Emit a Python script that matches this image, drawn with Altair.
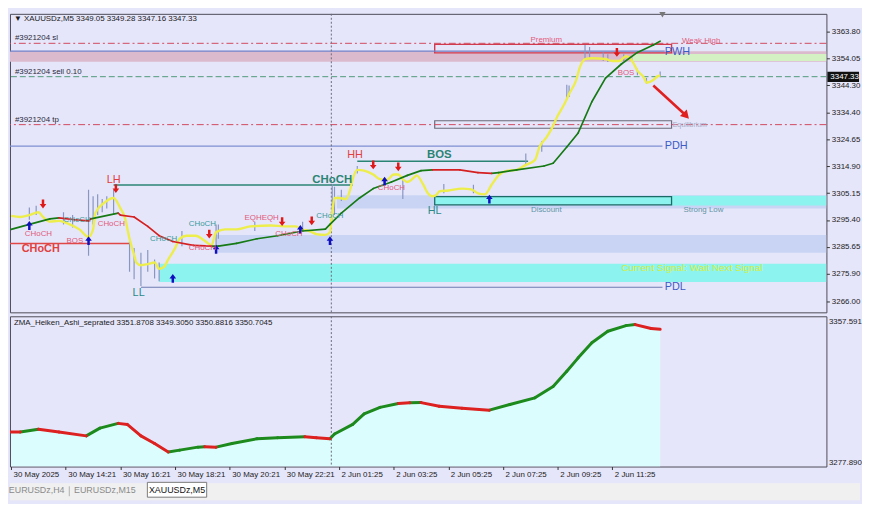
import json
import altair as alt
import pandas as pd

# ---------------- data ----------------
time_ticks = [0, 24, 48, 72, 96, 120, 144, 168, 192, 216, 240, 264]
time_labels = ["30 May 2025", "30 May 14:21", "30 May 16:21", "30 May 18:21",
               "30 May 20:21", "30 May 22:21", "2 Jun 01:25", "2 Jun 03:25",
               "2 Jun 05:25", "2 Jun 07:25", "2 Jun 09:25", "2 Jun 11:25"]
price_ticks = [3363.80, 3354.05, 3344.30, 3334.40, 3324.65, 3314.90,
               3305.15, 3295.40, 3285.65, 3275.90, 3266.00]
ind_ticks = [3357.591, 3277.890]
tabs = ["EURUSDz,H4", "EURUSDz,M15", "XAUUSDz,M5"]
header_top = "\u25bc XAUUSDz,M5  3349.05 3349.28 3347.16 3347.33"
header_bot = "ZMA_Heiken_Ashi_seprated 3351.8708 3349.3050 3350.8816 3350.7045"
last_price = 3347.33
signal_text = "Current Signal: Wait Next Signal"

# smoothed Heiken Ashi (yellow) line: bar index, price
ha_bar = [0, 4, 8, 12, 14, 17, 21, 25, 30, 34, 36, 37, 41, 45, 48, 50, 52, 54, 55, 57,
          60, 63, 65, 67, 69, 72, 74, 77, 81, 85, 88, 90, 94, 99, 105, 114, 120, 125, 128, 131,
          134, 138, 140, 141, 142, 144, 147, 149, 150, 152, 155, 159, 162, 165, 168, 170, 172, 174, 177, 178,
          181, 183, 185, 187, 188, 192, 198, 202, 205, 208, 211, 214, 218, 222, 226, 230, 232, 235, 237, 240,
          243, 245, 248, 250, 252, 255, 261, 264, 267, 270, 273, 275, 278, 279, 282, 284, 285]
ha_price = [3296.9, 3296.5, 3297.2, 3298.2, 3296.5, 3294.8, 3295.1, 3294.1, 3292.0, 3289.3,
            3292.0, 3297.9, 3301.7, 3303.4, 3299.6, 3296.2, 3288.6, 3282.8, 3280.0, 3279.0,
            3279.4, 3280.0, 3277.7, 3278.3, 3281.1, 3285.2, 3288.6, 3289.7, 3289.7, 3287.9,
            3286.2, 3291.0, 3292.0, 3292.0, 3293.1, 3293.4, 3293.1, 3293.1, 3292.0, 3291.4,
            3290.3, 3290.0, 3291.0, 3297.9, 3303.4, 3303.4, 3303.0, 3306.8, 3310.2, 3313.6,
            3313.3, 3311.9, 3310.2, 3309.9, 3311.9, 3311.9, 3310.2, 3309.2, 3310.9, 3311.6,
            3308.2, 3305.1, 3304.0, 3304.7, 3305.8, 3306.1, 3306.8, 3306.5, 3305.1, 3304.7,
            3308.2, 3311.6, 3313.3, 3313.6, 3315.4, 3317.1, 3321.9, 3325.3, 3328.0, 3333.2,
            3337.6, 3341.1, 3345.9, 3351.4, 3353.8, 3354.1, 3353.8, 3353.1, 3353.1, 3354.8,
            3352.7, 3349.6, 3346.9, 3345.2, 3346.2, 3347.6, 3347.9]

# candle wicks
wick_bar = [8, 11, 23, 27, 34, 36, 38, 40, 42, 45, 52, 54, 57, 60, 63, 65, 75, 90, 91, 107,
            128, 141, 142, 145, 152, 172, 190, 203, 226, 233, 244, 245, 252, 254, 260, 262, 269, 275, 279, 285]
wick_hi = [3299.9, 3300.6, 3298.2, 3297.2, 3306.4, 3304.0, 3304.7, 3303.0, 3304.0, 3306.4,
           3287.9, 3285.2, 3283.5, 3284.5, 3281.1, 3280.0, 3291.4, 3293.8, 3293.8, 3294.8,
           3294.8, 3308.5, 3307.5, 3306.4, 3315.0, 3310.9, 3308.5, 3308.2, 3319.5, 3324.0,
           3344.5, 3344.2, 3358.9, 3358.2, 3356.2, 3355.5, 3355.5, 3350.3, 3346.9, 3349.3]
wick_lo = [3295.5, 3297.2, 3293.8, 3292.7, 3282.4, 3293.8, 3297.2, 3298.2, 3299.6, 3297.2,
           3276.6, 3273.9, 3271.5, 3276.6, 3274.2, 3273.2, 3285.9, 3285.9, 3288.6, 3291.4,
           3291.4, 3295.5, 3297.2, 3302.3, 3312.3, 3303.0, 3305.1, 3305.1, 3315.4, 3320.2,
           3339.3, 3340.0, 3353.8, 3353.8, 3353.1, 3352.7, 3353.1, 3347.9, 3344.8, 3347.2]

# moving average (green rising / red falling)
ma_bar = [0, 8, 17, 21, 28, 34, 35, 47, 48, 54, 60, 65, 71, 80, 88, 91, 99, 108, 117, 128,
          138, 140, 145, 153, 159, 167, 174, 180, 185, 197, 205, 211, 214, 222, 234, 238, 244, 249, 255, 261,
          268, 275, 282, 285]
ma_price = [3292.0, 3293.8, 3295.8, 3296.2, 3295.5, 3295.1, 3295.8, 3297.9, 3297.2, 3296.5,
            3293.1, 3289.7, 3287.6, 3286.2, 3285.9, 3285.9, 3286.9, 3288.6, 3289.7, 3291.4,
            3292.1, 3293.8, 3297.9, 3303.4, 3306.8, 3309.2, 3311.6, 3313.3, 3313.6, 3313.6,
            3312.6, 3312.3, 3312.6, 3313.6, 3315.0, 3316.0, 3321.9, 3327.0, 3338.3, 3346.9,
            3352.0, 3356.2, 3358.9, 3360.3]
ma_dir = ["u", "u", "u", "u", "d", "d", "d", "u", "d", "d", "d", "d", "d", "d", "d", "u", "u", "u", "u", "u",
          "u", "u", "u", "u", "u", "u", "u", "u", "u", "d", "d", "d", "u", "u", "u", "u", "u", "u", "u", "u",
          "u", "u", "u", "u"]

# lower window indicator
ind_bar = [0, 4, 12, 21, 33, 39, 47, 51, 57, 63, 69, 74, 82, 85, 90, 97, 108, 117, 129, 134,
           140, 142, 150, 155, 162, 170, 175, 180, 188, 198, 210, 219, 230, 238, 244, 249, 255, 262, 270, 274,
           281, 285]
ind_val = [3295.0, 3295.0, 3296.6, 3295.0, 3292.8, 3297.2, 3299.9, 3299.3, 3292.8, 3288.5,
           3283.7, 3284.7, 3286.4, 3286.6, 3286.4, 3288.5, 3291.2, 3291.8, 3292.3, 3291.8,
           3291.2, 3293.9, 3299.3, 3305.3, 3309.0, 3311.2, 3311.6, 3311.7, 3309.6, 3308.5,
           3307.4, 3310.6, 3314.4, 3320.9, 3329.5, 3337.1, 3345.7, 3352.2, 3355.4, 3356.0,
           3353.8, 3353.3]
ind_dir = ["d", "d", "u", "d", "d", "u", "u", "d", "d", "d", "d", "u", "u", "u", "d", "u", "u", "u", "u", "d",
           "d", "u", "u", "u", "u", "u", "d", "u", "d", "d", "d", "u", "u", "u", "u", "u", "u", "u", "u", "u",
           "d", "d"]

# signal arrows
down_bar = [14, 46, 87, 119, 132, 159, 170, 266]
down_price = [3301.2, 3306.8, 3290.3, 3294.8, 3295.1, 3315.4, 3314.7, 3356.2]
up_bar = [8, 34, 71, 90, 140, 127, 164, 210]
up_price = [3293.4, 3287.9, 3274.2, 3284.8, 3287.9, 3292.0, 3309.5, 3303.0]
big_arrow_bar = [282, 296]
big_arrow_price = [3344.2, 3333.6]

# trade order lines
order_names = ["#3921204 sl", "#3921204 sell 0.10", "#3921204 tp"]
order_price = [3359.5, 3347.4, 3330.0]

# zones (bar from, bar to, low, high, kind)
zone_b0 = [-0.5, 273, 143, 90, 65, 290]
zone_b1 = [358, 358, 358, 358, 358, 358]
zone_lo = [3352.8, 3353.1, 3299.6, 3283.5, 3272.9, 3300.7]
zone_hi = [3356.6, 3355.6, 3304.4, 3290.0, 3279.5, 3304.2]
zone_kind = ["supply", "pwh", "blue", "blue", "cyan", "cyan"]

# premium / equilibrium / discount boxes
box_names = ["Premium", "Equilibrium", "Discount"]
box_b0 = [186, 186, 186]
box_b1 = [290, 290, 290]
box_lo = [3356.05, 3328.7, 3300.9]
box_hi = [3359.1, 3331.4, 3303.9]

# structure lines
struct_names = ["PWH", "PDH", "PDL", "LH", "HH", "CHoCH"]
struct_b0 = [-0.5, -0.5, 57, 45, 152, -0.5]
struct_b1 = [287, 286, 286, 150, 227, 52]
struct_price = [3356.7, 3322.2, 3271.0, 3308.1, 3316.7, 3286.9]
session_break = 140.6

# text labels
swing_red = ["LH", "HH"]; swing_red_bar = [45, 151]; swing_red_price = [3309.8, 3318.8]
swing_teal = ["LL", "HL"]; swing_teal_bar = [56, 186]; swing_teal_price = [3269.0, 3298.8]
bold_teal = ["CHoCH", "BOS"]; bold_teal_bar = [141, 188]; bold_teal_price = [3309.9, 3318.8]
bold_red = ["CHoCH"]; bold_red_bar = [13]; bold_red_price = [3284.8]
small_teal = ["CHoCH", "CHoCH", "CHoCH", "CHoCH"]
small_teal_bar = [29, 67, 84, 140]
small_teal_price = [3295.4, 3288.6, 3293.8, 3296.8]
small_pink = ["CHoCH", "BOS", "CHoCH", "CHoCH", "EQHEQH", "CHoCH", "CHoCH", "BOS", "Premium", "Weak High"]
small_pink_bar = [12, 28, 44, 84, 110, 122, 167, 270, 235, 303]
small_pink_price = [3290.3, 3287.9, 3294.1, 3285.2, 3296.2, 3290.3, 3307.1, 3348.6, 3360.6, 3360.3]
zone_text = ["Discount", "Strong Low"]; zone_text_bar = [235, 304]; zone_text_price = [3299.2, 3299.2]

# ---------------- layout / style ----------------
W = 826
H_TOP = 302
H_BOT = 152
FONT = "Liberation Sans"
XDOM = [-0.5, 358]
YDOM_TOP = [3261.9, 3370.2]
YDOM_BOT = [3275.4, 3360.7]
BG = "#e6e6fa"
GREEN = "#157a15"
RED = "#d42020"
TEAL = "#2a8474"
PINK = "#e05a7a"
CYAN = "#8cf3ee"
LBLUE = "#c9d4f4"
ZONE_COLORS = {"supply": "#dcbacd", "pwh": "#d3f1c2", "blue": LBLUE, "cyan": CYAN}

xs = alt.Scale(domain=XDOM, nice=False, zero=False)
ys = alt.Scale(domain=YDOM_TOP, nice=False, zero=False)
ysb = alt.Scale(domain=YDOM_BOT, nice=False, zero=False)

yax = alt.Axis(values=price_ticks, format=".2f", orient="right", title=None, grid=False,
               domain=False, tickSize=3, tickColor="#333", labelPadding=2, labelFont=FONT,
               labelFontSize=8, labelColor="#222", labelOverlap=False, labelFlush=False)
ybax = alt.Axis(values=ind_ticks, format=".3f", orient="right", title=None, grid=False,
                domain=False, ticks=False, labelPadding=2, labelFont=FONT,
                labelFontSize=8, labelColor="#222", labelOverlap=False, labelFlush=False)
xbax = alt.Axis(values=time_ticks, labelExpr=json.dumps(time_labels) + "[round(datum.value / 24)]",
                orient="bottom", title=None, grid=False, domain=False, tickSize=3, tickColor="#333",
                labelAlign="left", labelPadding=1, labelOffset=2, labelFont=FONT, labelFontSize=8,
                labelColor="#222", labelOverlap=False, labelFlush=False, labelBaseline="top")


def X(f):
    return alt.X(f"{f}:Q", scale=xs, axis=None)


def Y(f):
    return alt.Y(f"{f}:Q", scale=ys, axis=yax)


def XB(f):
    return alt.X(f"{f}:Q", scale=xs, axis=xbax)


def YB(f):
    return alt.Y(f"{f}:Q", scale=ysb, axis=ybax)


def texts(labels, bars, prices, **kw):
    df = pd.DataFrame({"t": labels, "bar": bars, "p": prices})
    base = dict(font=FONT, baseline="middle", clip=True)
    base.update(kw)
    return alt.Chart(df).mark_text(**base).encode(x=X("bar"), y=Y("p"), text="t:N")


def hrule(i, **kw):
    df = pd.DataFrame({"b0": [struct_b0[i]], "b1": [struct_b1[i]], "p": [struct_price[i]]})
    return alt.Chart(df).mark_rule(clip=True, **kw).encode(x=X("b0"), x2="b1", y=Y("p"))


def segments(bars, vals, dirs):
    rows = [{"b0": bars[k - 1], "v0": vals[k - 1], "b1": bars[k], "v1": vals[k], "d": dirs[k]}
            for k in range(1, len(bars))]
    return pd.DataFrame(rows)


layers = []

# zones
zdf = pd.DataFrame({"b0": zone_b0, "b1": zone_b1, "lo": zone_lo, "hi": zone_hi, "k": zone_kind})
for kind, col in ZONE_COLORS.items():
    layers.append(alt.Chart(zdf).transform_filter(alt.datum.k == kind).mark_rect(
        clip=True, color=col, opacity=1).encode(x=X("b0"), x2="b1", y=Y("lo"), y2="hi"))

# boxes
bdf = pd.DataFrame({"b0": box_b0, "b1": box_b1, "lo": box_lo, "hi": box_hi, "n": box_names})
layers.append(alt.Chart(bdf).transform_filter("datum.n == 'Discount'").mark_rect(
    clip=True, fill=CYAN, stroke="#1d6b66", strokeWidth=1.3).encode(x=X("b0"), x2="b1", y=Y("lo"), y2="hi"))
layers.append(alt.Chart(bdf).transform_filter("datum.n == 'Premium'").mark_rect(
    clip=True, fill="transparent", stroke="#d03a4c", strokeWidth=1.4).encode(x=X("b0"), x2="b1", y=Y("lo"), y2="hi"))
layers.append(alt.Chart(bdf).transform_filter("datum.n == 'Equilibrium'").mark_rect(
    clip=True, fill="transparent", stroke="#6a6a7a", strokeWidth=1.2).encode(x=X("b0"), x2="b1", y=Y("lo"), y2="hi"))

# order lines
odf = pd.DataFrame({"n": order_names, "p": order_price})
layers.append(alt.Chart(odf).transform_filter("datum.n != '#3921204 sell 0.10'").mark_rule(
    color="#d04a5e", strokeWidth=1, strokeDash=[7, 3, 2, 3]).encode(y=Y("p")))
layers.append(alt.Chart(odf).transform_filter("datum.n == '#3921204 sell 0.10'").mark_rule(
    color="#4f9a7a", strokeWidth=1, strokeDash=[6, 3]).encode(y=Y("p")))
layers.append(alt.Chart(odf).mark_text(font=FONT, fontSize=8, color="#2a2a3a", align="left",
                                       baseline="bottom", dy=-1).encode(
    x=alt.value(5), y=Y("p"), text="n:N"))

# structure lines
layers.append(hrule(0, color="#6f80c8", strokeWidth=1.2))
layers.append(hrule(1, color="#7d8fd2", strokeWidth=1.2))
layers.append(hrule(2, color="#6d7bb0", strokeWidth=1.2))
layers.append(hrule(3, color=TEAL, strokeWidth=1.5))
layers.append(hrule(4, color=TEAL, strokeWidth=1.5))
layers.append(hrule(5, color="#e04848", strokeWidth=1.5))

# session separator
layers.append(alt.Chart(pd.DataFrame({"bar": [session_break]})).mark_rule(
    color="#6a6a7a", strokeDash=[2, 2], strokeWidth=1).encode(x=X("bar")))

# wicks
wdf = pd.DataFrame({"bar": wick_bar, "hi": wick_hi, "lo": wick_lo})
layers.append(alt.Chart(wdf).mark_rule(color="#8796c2", strokeWidth=1.2, clip=True).encode(
    x=X("bar"), y=Y("lo"), y2="hi"))

# yellow line
hdf = pd.DataFrame({"bar": ha_bar, "p": ha_price})
layers.append(alt.Chart(hdf).mark_line(color="#eded4c", strokeWidth=2.4, interpolate="monotone",
                                       clip=True).encode(x=X("bar"), y=Y("p")))

# MA segments
mdf = segments(ma_bar, ma_price, ma_dir)
for d, col in (("u", GREEN), ("d", RED)):
    layers.append(alt.Chart(mdf).transform_filter(alt.datum.d == d).mark_rule(
        strokeWidth=1.7, strokeCap="round", clip=True, color=col).encode(
        x=X("b0"), x2="b1", y=Y("v0"), y2="v1"))

# arrows
UP_PATH = "M-0.28,1 L0.28,1 L0.28,0 L0.75,0 L0,-1 L-0.75,0 L-0.28,0 Z"
DOWN_PATH = "M-0.28,-1 L0.28,-1 L0.28,0 L0.75,0 L0,1 L-0.75,0 L-0.28,0 Z"
layers.append(alt.Chart(pd.DataFrame({"bar": down_bar, "p": down_price})).mark_point(
    shape=DOWN_PATH, filled=True, color="#e01818", size=80, opacity=1).encode(x=X("bar"), y=Y("p")))
layers.append(alt.Chart(pd.DataFrame({"bar": up_bar, "p": up_price})).mark_point(
    shape=UP_PATH, filled=True, color="#1010c0", size=80, opacity=1).encode(x=X("bar"), y=Y("p")))

adf = pd.DataFrame({"b0": [big_arrow_bar[0]], "p0": [big_arrow_price[0]],
                    "b1": [big_arrow_bar[1]], "p1": [big_arrow_price[1]]})
layers.append(alt.Chart(adf).mark_rule(color="#e02020", strokeWidth=2.6).encode(
    x=X("b0"), x2="b1", y=Y("p0"), y2="p1"))
layers.append(alt.Chart(adf).mark_point(shape="triangle", filled=True, color="#e02020", size=90,
                                        angle=137, opacity=1).encode(x=X("b1"), y=Y("p1")))

# labels
layers.append(texts(swing_red, swing_red_bar, swing_red_price, fontSize=11, color="#e04040"))
layers.append(texts(swing_teal, swing_teal_bar, swing_teal_price, fontSize=11, color="#2a8a8a"))
layers.append(texts(bold_teal, bold_teal_bar, bold_teal_price, fontSize=11.5, fontWeight="bold", color=TEAL))
layers.append(texts(bold_red, bold_red_bar, bold_red_price, fontSize=11, fontWeight="bold", color="#e04040"))
layers.append(texts(small_teal, small_teal_bar, small_teal_price, fontSize=8, color="#3a9a9a"))
layers.append(texts(small_pink, small_pink_bar, small_pink_price, fontSize=8, color=PINK))
layers.append(texts(zone_text, zone_text_bar, zone_text_price, fontSize=8, color="#5f95a5"))
layers.append(texts(["Equilibrium"], [298], [box_lo[1] + 1.3], fontSize=7, color="#a4abc6"))
layers.append(texts([signal_text], [299], [3278.0], fontSize=10, color="#d6ef3a"))
layers.append(texts(struct_names[:3], [287, 287, 287], [struct_price[0] - 0.3, struct_price[1], struct_price[2]],
                    fontSize=11, color="#3b5bc6", align="left"))

# header and current price tag
layers.append(alt.Chart(pd.DataFrame({"t": [header_top]})).mark_text(
    font=FONT, fontSize=8, color="#1a1a1a", align="left", baseline="middle").encode(
    x=alt.value(4), y=alt.value(5), text="t:N"))
layers.append(alt.Chart(pd.DataFrame({"bar": [286]})).mark_point(
    shape="triangle-down", filled=True, color="#777", size=40, opacity=1).encode(x=X("bar"), y=alt.value(1)))
pdf = pd.DataFrame({"p": [last_price], "hi": [last_price + 1.9], "lo": [last_price - 1.9],
                    "t": [f"{last_price:.2f}"]})
layers.append(alt.Chart(pdf).mark_rect(color="#111").encode(
    x=alt.value(W + 1), x2=alt.value(W + 33), y=Y("hi"), y2="lo"))
layers.append(alt.Chart(pdf).mark_text(font=FONT, fontSize=8, color="white", align="left",
                                       baseline="middle").encode(x=alt.value(W + 4), y=Y("p"), text="t:N"))

top = alt.layer(*layers).properties(width=W, height=H_TOP)

# ---------------- lower window ----------------
idf = pd.DataFrame({"bar": ind_bar, "v": ind_val, "base": [YDOM_BOT[0]] * len(ind_bar)})
sdf = segments(ind_bar, ind_val, ind_dir)
bl = []
bl.append(alt.Chart(idf).mark_area(color="#dcfdfd", opacity=1, clip=True).encode(
    x=XB("bar"), y=YB("v"), y2="base"))
bl.append(alt.Chart(pd.DataFrame({"bar": [session_break]})).mark_rule(
    color="#6a6a7a", strokeDash=[2, 2], strokeWidth=1).encode(x=XB("bar")))
for d, col in (("u", "#1c8a1c"), ("d", "#dd2020")):
    bl.append(alt.Chart(sdf).transform_filter(alt.datum.d == d).mark_rule(
        strokeWidth=3, strokeCap="round", clip=True, color=col).encode(
        x=XB("b0"), x2="b1", y=YB("v0"), y2="v1"))
bl.append(alt.Chart(pd.DataFrame({"t": [header_bot]})).mark_text(
    font=FONT, fontSize=8, color="#1a1a1a", align="left", baseline="middle").encode(
    x=alt.value(4), y=alt.value(7), text="t:N"))
bottom = alt.layer(*bl).properties(width=W, height=H_BOT)

# ---------------- terminal tabs ----------------
one = pd.DataFrame({"k": [0]})
tdf = pd.DataFrame({"t": tabs})
tl = []
tl.append(alt.Chart(one).mark_rect(color="#f0f0f0").encode(
    x=alt.value(0), x2=alt.value(W + 34), y=alt.value(0), y2=alt.value(17)))
tl.append(alt.Chart(one).mark_rect(fill="white", stroke="#7a7a7a", strokeWidth=1).encode(
    x=alt.value(139), x2=alt.value(199), y=alt.value(-1), y2=alt.value(14)))
tl.append(alt.Chart(one).mark_rule(color="#b0b0b0").encode(
    x=alt.value(60), y=alt.value(3), y2=alt.value(13)))
tab_x = [27, 96, 169]
for i, name in enumerate(tabs):
    tl.append(alt.Chart(tdf).transform_filter(alt.datum.t == name).mark_text(
        font=FONT, fontSize=9, color="#111" if i == 2 else "#8a8a8a", baseline="middle").encode(
        x=alt.value(tab_x[i]), y=alt.value(7), text="t:N"))
tabbar = alt.layer(*tl).properties(width=W, height=17, view=alt.ViewBackground(stroke="transparent"))

chart = alt.vconcat(top, bottom, tabbar, spacing=2).properties(
    background=BG, padding=0
).configure_view(stroke="#4b4b58", strokeWidth=1)

chart.save("out.html", embed_options={"renderer": "svg", "actions": False})
